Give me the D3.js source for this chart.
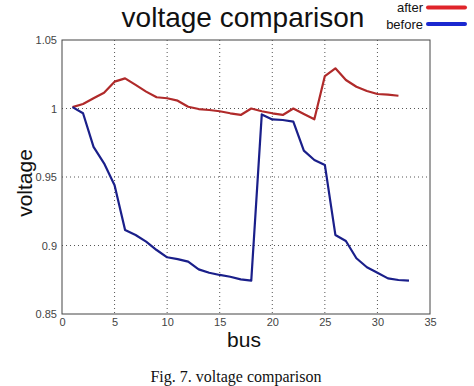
<!DOCTYPE html>
<html>
<head>
<meta charset="utf-8">
<title>voltage comparison</title>
<script src="https://cdn.jsdelivr.net/npm/d3@7/dist/d3.min.js"></script>
<style>
  body { margin: 0; background: #fff; }
  svg text { font-family: "Liberation Sans", Arial, sans-serif; }
</style>
</head>
<body>
<script>
var buses = d3.range(1, 34);
var after = [1.001, 1.0033, 1.0075, 1.0115, 1.0196, 1.022, 1.0172, 1.0123, 1.0082, 1.0075,
             1.0057, 1.0013, 0.9996, 0.9989, 0.998, 0.9965, 0.9953, 1.0, 0.998, 0.9965,
             0.9953, 1.0, 0.996, 0.9921, 1.0237, 1.0293, 1.0208, 1.0159, 1.0128, 1.0106,
             1.0101, 1.0093];
var before = [1.001, 0.9965, 0.972, 0.96, 0.944, 0.9113, 0.9077, 0.9028, 0.8967, 0.8914,
              0.8901, 0.8882, 0.8826, 0.8801, 0.8785, 0.8772, 0.8753, 0.8743, 0.9957, 0.992,
              0.9916, 0.9904, 0.9692, 0.9624, 0.9588, 0.9077, 0.9033, 0.8907, 0.8841, 0.8801,
              0.876, 0.8748, 0.8743];
var xTicks = [0, 5, 10, 15, 20, 25, 30, 35];
var yTicks = [0.85, 0.9, 0.95, 1, 1.05];

var width = 474, height = 386,
    plotL = 62, plotR = 430, plotT = 40, plotB = 314;

var svg = d3.select("body").append("svg")
  .attr("width", width)
  .attr("height", height);

var x = d3.scaleLinear().domain([0, 35]).range([plotL, plotR]);
var y = d3.scaleLinear().domain([0.85, 1.05]).range([plotB, plotT]);

// grid
svg.append("g").selectAll("line").data(xTicks.slice(1, -1)).enter().append("line")
  .attr("x1", d => x(d)).attr("x2", d => x(d))
  .attr("y1", plotT).attr("y2", plotB)
  .attr("stroke", "#555").attr("stroke-width", 1).attr("stroke-dasharray", "1,3");
svg.append("g").selectAll("line").data(yTicks.slice(1, -1)).enter().append("line")
  .attr("x1", plotL).attr("x2", plotR)
  .attr("y1", d => y(d)).attr("y2", d => y(d))
  .attr("stroke", "#555").attr("stroke-width", 1).attr("stroke-dasharray", "1,3");

// box
svg.append("rect")
  .attr("x", plotL).attr("y", plotT)
  .attr("width", plotR - plotL).attr("height", plotB - plotT)
  .attr("fill", "none").attr("stroke", "#444").attr("stroke-width", 1);

// axes
var xAxis = svg.append("g")
  .attr("transform", "translate(0," + plotB + ")")
  .call(d3.axisBottom(x).tickValues(xTicks).tickSize(0).tickPadding(4));
var yAxis = svg.append("g")
  .attr("transform", "translate(" + plotL + ",0)")
  .call(d3.axisLeft(y).tickValues(yTicks).tickSize(0).tickPadding(5).tickFormat(d3.format("")));
[xAxis, yAxis].forEach(function(a) {
  a.select(".domain").remove();
  a.selectAll("text").attr("font-size", 11).attr("fill", "#444")
    .attr("font-family", "Liberation Sans, Arial, sans-serif");
});

// lines
var line = d3.line().x((d, i) => x(buses[i])).y(d => y(d));
svg.append("path").datum(after)
  .attr("d", line).attr("fill", "none")
  .attr("stroke", "#b02a2a").attr("stroke-width", 2.2).attr("stroke-linejoin", "round");
svg.append("path").datum(before)
  .attr("d", line).attr("fill", "none")
  .attr("stroke", "#1a1f8a").attr("stroke-width", 2.2).attr("stroke-linejoin", "round");

// title and labels
svg.append("text").attr("x", 243).attr("y", 27)
  .attr("text-anchor", "middle").attr("font-size", 28).attr("fill", "#111")
  .text("voltage comparison");
svg.append("text").attr("x", 244).attr("y", 347)
  .attr("text-anchor", "middle").attr("font-size", 21).attr("fill", "#111")
  .text("bus");
svg.append("text").attr("transform", "translate(32,183) rotate(-90)")
  .attr("text-anchor", "middle").attr("font-size", 21).attr("fill", "#111")
  .text("voltage");
svg.append("text").attr("x", 236).attr("y", 382)
  .attr("text-anchor", "middle").attr("font-size", 16).attr("fill", "#111")
  .style("font-family", "Liberation Serif, Times New Roman, serif")
  .text("Fig. 7. voltage comparison");

// legend
var legend = [{name: "after", color: "#e0242a", y: 7.5}, {name: "before", color: "#1a28d0", y: 24}];
var lg = svg.append("g").selectAll("g").data(legend).enter().append("g");
lg.append("text").attr("x", 423).attr("y", d => d.y + 4.5)
  .attr("text-anchor", "end").attr("font-size", 13).attr("fill", "#111")
  .text(d => d.name);
lg.append("line").attr("x1", 428).attr("x2", 465)
  .attr("y1", d => d.y).attr("y2", d => d.y)
  .attr("stroke", d => d.color).attr("stroke-width", 4).attr("stroke-linecap", "round");
</script>
</body>
</html>
